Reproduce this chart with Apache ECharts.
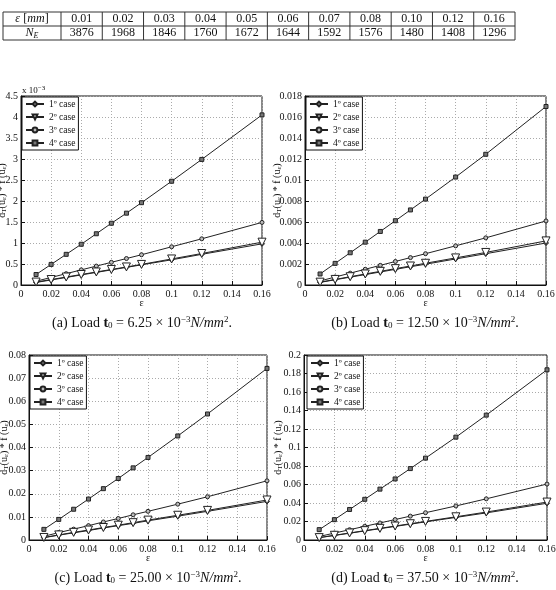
<!DOCTYPE html>
<html>
<head>
<meta charset="utf-8">
<script src="https://cdn.jsdelivr.net/npm/echarts@6/dist/echarts.min.js"></script>
<style>
  html, body { margin: 0; padding: 0; background: #fff; }
  #chart { width: 556px; height: 590px; }
</style>
</head>
<body>
<div id="chart"></div>
<script>
// table + x values
var eps = [0.01, 0.02, 0.03, 0.04, 0.05, 0.06, 0.07, 0.08, 0.10, 0.12, 0.16];
var epsLabels = ['0.01', '0.02', '0.03', '0.04', '0.05', '0.06', '0.07', '0.08', '0.10', '0.12', '0.16'];
var nElements = [3876, 1968, 1846, 1760, 1672, 1644, 1592, 1576, 1480, 1408, 1296];
var caseNames = ['1º case', '2º case', '3º case', '4º case'];

// (a) t0 = 6.25e-3, values in units of 1e-3
var a1 = [0.06, 0.12, 0.18, 0.24, 0.30, 0.36, 0.42, 0.48, 0.60, 0.73, 0.98];
var a2 = [0.07, 0.13, 0.19, 0.25, 0.31, 0.37, 0.43, 0.49, 0.62, 0.75, 1.02];
var a3 = [0.09, 0.18, 0.27, 0.36, 0.45, 0.54, 0.63, 0.72, 0.91, 1.10, 1.49];
var a4 = [0.25, 0.49, 0.73, 0.97, 1.22, 1.47, 1.71, 1.96, 2.47, 2.99, 4.05];

// (b) t0 = 12.50e-3
var b1 = [0.00025, 0.0005, 0.00075, 0.00099, 0.00124, 0.00149, 0.00174, 0.00198, 0.00248, 0.00298, 0.0040];
var b2 = [0.00027, 0.00053, 0.00079, 0.00105, 0.0013, 0.00156, 0.00181, 0.00207, 0.00258, 0.0031, 0.0042];
var b3 = [0.00038, 0.00076, 0.00113, 0.0015, 0.00187, 0.00224, 0.00261, 0.00298, 0.00373, 0.00449, 0.0061];
var b4 = [0.00105, 0.00206, 0.00307, 0.00408, 0.0051, 0.00612, 0.00715, 0.00818, 0.01028, 0.01245, 0.0170];

// (c) t0 = 25.00e-3
var c1 = [0.0010, 0.0021, 0.0031, 0.0041, 0.0052, 0.0062, 0.0072, 0.0083, 0.0103, 0.0124, 0.0167];
var c2 = [0.0011, 0.0022, 0.0033, 0.0043, 0.0054, 0.0064, 0.0075, 0.0086, 0.0107, 0.0128, 0.0173];
var c3 = [0.0016, 0.0032, 0.0047, 0.0062, 0.0078, 0.0093, 0.0109, 0.0124, 0.0155, 0.0187, 0.0256];
var c4 = [0.0046, 0.0089, 0.0133, 0.0177, 0.0222, 0.0266, 0.0312, 0.0357, 0.0450, 0.0545, 0.0742];

// (d) t0 = 37.50e-3
var d1 = [0.0025, 0.0049, 0.0073, 0.0098, 0.0122, 0.0147, 0.0171, 0.0196, 0.0244, 0.0293, 0.0397];
var d2 = [0.0026, 0.0051, 0.0076, 0.0101, 0.0126, 0.0151, 0.0176, 0.0201, 0.0251, 0.0302, 0.0410];
var d3 = [0.0038, 0.0075, 0.0111, 0.0148, 0.0184, 0.0221, 0.0258, 0.0295, 0.0368, 0.0445, 0.0605];
var d4 = [0.0112, 0.0220, 0.0330, 0.0440, 0.0550, 0.0660, 0.0772, 0.0885, 0.1112, 0.1350, 0.1840];

var serif = 'Liberation Serif';
var chart = echarts.init(document.getElementById('chart'));

var symbols = [
  { symbol: 'diamond', size: 5, rotate: 0, fill: '#888' },
  { symbol: 'triangle', size: 8, rotate: 180, fill: '#fff' },
  { symbol: 'circle', size: 4, rotate: 0, fill: '#bbb' },
  { symbol: 'rect', size: 4, rotate: 0, fill: '#777' }
];

var panels = [
  { grid: { left: 21, top: 96, width: 241, height: 189 }, max: 4.5, step: 0.5, data: [a1, a2, a3, a4], nameGap: 13, legend: { left: 22, top: 97 } },
  { grid: { left: 305, top: 96, width: 241, height: 189 }, max: 0.018, step: 0.002, data: [b1, b2, b3, b4], nameGap: 22, legend: { left: 306, top: 97 } },
  { grid: { left: 29, top: 355, width: 238, height: 185 }, max: 0.08, step: 0.01, data: [c1, c2, c3, c4], nameGap: 19, legend: { left: 30, top: 356 } },
  { grid: { left: 304, top: 355, width: 243, height: 185 }, max: 0.2, step: 0.02, data: [d1, d2, d3, d4], nameGap: 20, legend: { left: 307, top: 356 } }
];

var grids = [], xAxes = [], yAxes = [], series = [], legends = [];

panels.forEach(function (p, i) {
  grids.push(Object.assign({ show: true, borderColor: '#111', borderWidth: 1, backgroundColor: 'transparent',
    containLabel: false, outerBoundsMode: 'none' }, p.grid));
  xAxes.push({
    type: 'value', gridIndex: i, min: 0, max: 0.16, interval: 0.02,
    name: 'ε', nameLocation: 'middle', nameGap: 13, nameMoveOverlap: false,
    nameTextStyle: { fontFamily: serif, fontSize: 10, color: '#111' },
    axisLine: { lineStyle: { color: '#111' } },
    axisTick: { inside: true, length: 4, lineStyle: { color: '#111' } },
    axisLabel: { fontFamily: serif, fontSize: 10, color: '#111', margin: 4, hideOverlap: false,
      showMinLabel: true, showMaxLabel: true,
      formatter: function (v) { return String(parseFloat(v.toFixed(2))); } },
    splitLine: { show: true, lineStyle: { color: '#aaa', type: [1, 2] } }
  });
  yAxes.push({
    type: 'value', gridIndex: i, min: 0, max: p.max, interval: p.step,
    name: '{m|d}{s|T}{m|(u}{s|ε}{m|) * f (u}{s|ε}{m|)}',
    nameLocation: 'middle', nameRotate: 90, nameGap: p.nameGap, nameMoveOverlap: false,
    nameTextStyle: { fontFamily: serif, fontSize: 10, color: '#111',
      rich: { m: { fontFamily: serif, fontSize: 10, color: '#111' },
              s: { fontFamily: serif, fontSize: 7, color: '#111', verticalAlign: 'bottom', padding: [4, 0, 0, 0] } } },
    axisLine: { lineStyle: { color: '#111' } },
    axisTick: { inside: true, length: 4, lineStyle: { color: '#111' } },
    axisLabel: { fontFamily: serif, fontSize: 10, color: '#111', margin: 3, hideOverlap: false,
      showMinLabel: true, showMaxLabel: true,
      formatter: function (v) { return String(parseFloat(v.toFixed(4))); } },
    splitLine: { show: true, lineStyle: { color: '#aaa', type: [1, 2] } }
  });
  p.data.forEach(function (vals, k) {
    var s = symbols[k];
    series.push({
      type: 'line', name: caseNames[k], xAxisIndex: i, yAxisIndex: i,
      data: eps.map(function (x, j) { return [x, vals[j]]; }),
      symbol: s.symbol, symbolSize: s.size, symbolRotate: s.rotate, showAllSymbol: true,
      lineStyle: { color: '#222', width: 1 },
      itemStyle: { color: s.fill, borderColor: '#222', borderWidth: 1 },
      emphasis: { disabled: true },
      z: k === 1 ? 3 : 2
    });
  });
  legends.push({
    left: p.legend.left, top: p.legend.top, orient: 'vertical',
    data: caseNames, itemWidth: 18, itemHeight: 6, itemGap: 3,
    padding: [2, 3, 2, 3], backgroundColor: '#fff', borderColor: '#111', borderWidth: 1,
    selectedMode: false,
    textStyle: { fontFamily: serif, fontSize: 9.5, color: '#111', lineHeight: 7 }
  });
});

// table drawn as graphic elements
var tbl = [];
var colX = [3, 61];
for (var c = 1; c <= eps.length; c++) colX.push(61 + c * (515 - 61) / eps.length);
var rowY = [12, 26, 40];
rowY.forEach(function (y) {
  tbl.push({ type: 'line', shape: { x1: 3, y1: y, x2: 515, y2: y }, style: { stroke: '#333', lineWidth: 1 } });
});
colX.forEach(function (x) {
  tbl.push({ type: 'line', shape: { x1: x, y1: 12, x2: x, y2: 40 }, style: { stroke: '#333', lineWidth: 1 } });
});
tbl.push({ type: 'text', x: 32, y: 19, style: {
  text: '{i|ε} {n|[}{i|mm}{n|]}', align: 'center', verticalAlign: 'middle',
  rich: { i: { fontFamily: serif, fontStyle: 'italic', fontSize: 12, fill: '#111' },
          n: { fontFamily: serif, fontSize: 12, fill: '#111' } } } });
tbl.push({ type: 'text', x: 32, y: 33, style: {
  text: '{i|N}{s|E}', align: 'center', verticalAlign: 'middle',
  rich: { i: { fontFamily: serif, fontStyle: 'italic', fontSize: 12, fill: '#111' },
          s: { fontFamily: serif, fontStyle: 'italic', fontSize: 8, fill: '#111', verticalAlign: 'bottom', padding: [5, 0, 0, 0] } } } });
epsLabels.forEach(function (lab, j) {
  var cx = (colX[j + 1] + colX[j + 2]) / 2;
  tbl.push({ type: 'text', x: cx, y: 19, style: { text: lab, align: 'center', verticalAlign: 'middle', fontFamily: serif, fontSize: 12, fill: '#111' } });
  tbl.push({ type: 'text', x: cx, y: 33, style: { text: String(nElements[j]), align: 'center', verticalAlign: 'middle', fontFamily: serif, fontSize: 12, fill: '#111' } });
});

// captions
var capRich = {
  n: { fontFamily: serif, fontSize: 14, fill: '#111' },
  b: { fontFamily: serif, fontSize: 14, fontWeight: 'bold', fill: '#111' },
  i: { fontFamily: serif, fontSize: 14, fontStyle: 'italic', fill: '#111' },
  s: { fontFamily: serif, fontSize: 9, fill: '#111', verticalAlign: 'bottom', padding: [6, 0, 0, 0] },
  u: { fontFamily: serif, fontSize: 9, fill: '#111', verticalAlign: 'top', padding: [0, 0, 6, 0] }
};
function caption(x, y, tag, load) {
  return { type: 'text', x: x, y: y, style: {
    text: '{n|(' + tag + ') Load }{b|t}{s|0}{n| = ' + load + ' × 10}{u|−3}{i|N/mm}{u|2}{n|.}',
    align: 'center', verticalAlign: 'middle', rich: capRich } };
}

var graphics = tbl.concat([
  caption(142, 323, 'a', '6.25'),
  caption(425, 323, 'b', '12.50'),
  caption(148, 578, 'c', '25.00'),
  caption(425, 578, 'd', '37.50'),
  { type: 'text', x: 22, y: 91, style: {
    text: '{n|x 10}{u|−3}', verticalAlign: 'middle',
    rich: { n: { fontFamily: serif, fontSize: 9, fill: '#111' },
            u: { fontFamily: serif, fontSize: 7, fill: '#111', verticalAlign: 'top', padding: [0, 0, 5, 0] } } } }
]);

chart.setOption({
  backgroundColor: '#fff',
  animation: false,
  grid: grids,
  xAxis: xAxes,
  yAxis: yAxes,
  legend: legends,
  series: series,
  graphic: graphics
});
</script>
</body>
</html>
